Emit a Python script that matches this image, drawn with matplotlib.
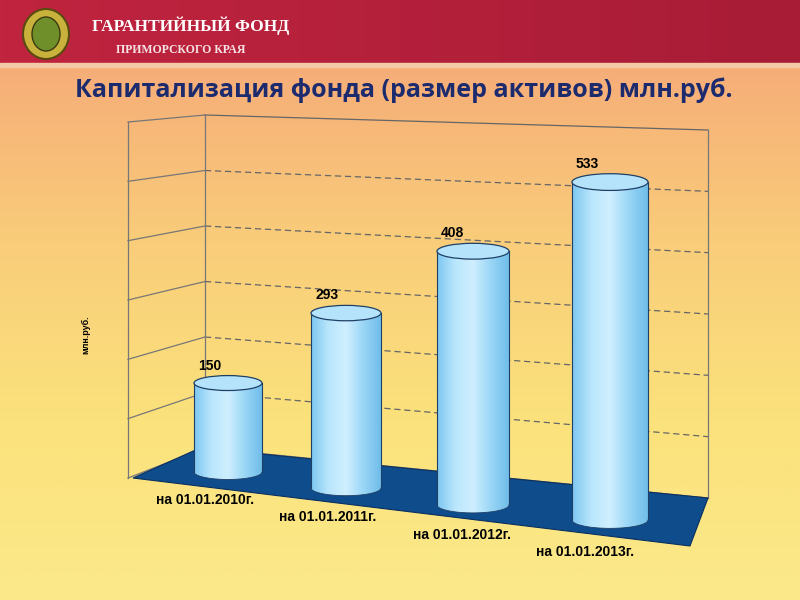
import numpy as np
import matplotlib.pyplot as plt
from matplotlib.patches import Polygon, Ellipse, Rectangle
from matplotlib.colors import LinearSegmentedColormap

categories = ['на 01.01.2010г.', 'на 01.01.2011г.', 'на 01.01.2012г.', 'на 01.01.2013г.']
values = [150, 293, 408, 533]

# perspective geometry (pixels)
centers = [228, 346, 473, 610]
bottoms = [472, 488, 505, 520]
widths = [68, 70, 72, 76]
px_per_unit = [0.593, 0.597, 0.622, 0.634]

fig = plt.figure(figsize=(8, 6), dpi=100)
ax = fig.add_axes([0, 0, 1, 1])
ax.set_xlim(0, 800)
ax.set_ylim(600, 0)
ax.axis('off')

# background
bg = LinearSegmentedColormap.from_list('bg', ['#f6ad78', '#f9cd7a', '#fbe27c', '#fbe98a'])
grad = np.linspace(0, 1, 256).reshape(-1, 1)
ax.imshow(grad, cmap=bg, extent=[0, 800, 600, 65], aspect='auto', zorder=0)
hdr = LinearSegmentedColormap.from_list('hdr', ['#c0243f', '#a81c36'])
ax.imshow(np.linspace(0, 1, 256).reshape(1, -1), cmap=hdr, extent=[0, 800, 65, 0], aspect='auto', zorder=0)
ax.add_patch(Rectangle((0, 63), 800, 4, color='#f3c9a6', zorder=1))

# logo
ax.add_patch(Ellipse((46, 34), 46, 50, fc='#c9b23c', ec='#5a4a10', lw=1.5, zorder=2))
ax.add_patch(Ellipse((46, 34), 28, 34, fc='#6f8f2a', ec='#3b3b10', lw=1, zorder=3))
ax.text(92, 26, 'ГАРАНТИЙНЫЙ ФОНД', color='white', fontsize=12.5, fontweight='bold',
        family='Liberation Serif', va='center')
ax.text(116, 50, 'ПРИМОРСКОГО КРАЯ', color='#f7e3e3', fontsize=8.5, fontweight='bold',
        family='Liberation Serif', va='center')

ax.text(404, 90, 'Капитализация фонда (размер активов) млн.руб.', color='#1c2a6e',
        fontsize=18, fontweight='bold', family='Open Sans', ha='center', va='center')

# walls and grid
left_x, back_x, right_x = 128, 205, 708
def grid_y(t):
    # t: 0 at floor, 1 at top
    return (478 - t * 356, 448 - t * 333, 498 - t * 368)
for i in range(7):
    t = i / 6
    y0, y1, y2 = grid_y(t)
    ls = '-' if i in (0, 6) else (0, (5, 3))
    ax.plot([left_x, back_x], [y0, y1], color='#777777', lw=0.9, ls='-', zorder=2)
    ax.plot([back_x, right_x], [y1, y2], color='#666666', lw=0.9, ls=ls, zorder=2)
y0, y1, y2 = grid_y(1)
ax.plot([left_x, left_x], [478, y0], color='#777777', lw=0.9, zorder=2)
ax.plot([back_x, back_x], [448, y1], color='#777777', lw=0.9, zorder=2)
ax.plot([right_x, right_x], [498, y2], color='#777777', lw=0.9, zorder=2)

# floor
ax.add_patch(Polygon([(133, 478), (200, 448), (708, 498), (690, 546)],
                     closed=True, fc='#0f4c8c', ec='#0a3060', lw=0.8, zorder=3))

# cylinders
body = LinearSegmentedColormap.from_list('cyl', ['#7cc6f0', '#b9e6fc', '#cfefff', '#9ad6f6', '#6fbde9'])
for v, cx, yb, w, k in zip(values, centers, bottoms, widths, px_per_unit):
    h = v * k
    yt = yb - h
    eh = w * 0.22
    im = ax.imshow(np.linspace(0, 1, 256).reshape(1, -1), cmap=body,
                   extent=[cx - w / 2, cx + w / 2, yb + eh / 2 + 1, yt], aspect='auto', zorder=4)
    clip = Polygon([(cx - w / 2, yt), (cx + w / 2, yt), (cx + w / 2, yb)] +
                   [(cx + w / 2 * np.cos(a), yb + eh / 2 * np.sin(a)) for a in np.linspace(0, np.pi, 30)] +
                   [(cx - w / 2, yt)], closed=True, transform=ax.transData)
    im.set_clip_path(clip)
    ax.plot([cx - w / 2, cx - w / 2], [yt, yb], color='#1f3f66', lw=0.8, zorder=5)
    ax.plot([cx + w / 2, cx + w / 2], [yt, yb], color='#1f3f66', lw=0.8, zorder=5)
    a = np.linspace(0, np.pi, 40)
    ax.plot(cx + w / 2 * np.cos(a), yb + eh / 2 * np.sin(a), color='#1f3f66', lw=0.6, zorder=5)
    ax.add_patch(Ellipse((cx, yt), w, eh, fc='#b5e3fb', ec='#1f3f66', lw=0.9, zorder=6))
    ax.text(cx - w / 2 + 4, yt - eh / 2 - 3, str(v), fontsize=10, fontweight='bold',
            family='Liberation Sans', ha='left', va='bottom', zorder=7)

# category labels
label_pos = [(205, 500), (328, 517), (462, 535), (585, 552)]
for (lx, ly), c in zip(label_pos, categories):
    ax.text(lx, ly, c, fontsize=10, fontweight='bold', family='Liberation Sans',
            ha='center', va='center', zorder=7)

ax.text(86, 335, 'млн.руб.', fontsize=6.5, fontweight='bold', family='Liberation Sans',
        rotation=90, ha='center', va='center')

fig.savefig('out.png', dpi=100)
